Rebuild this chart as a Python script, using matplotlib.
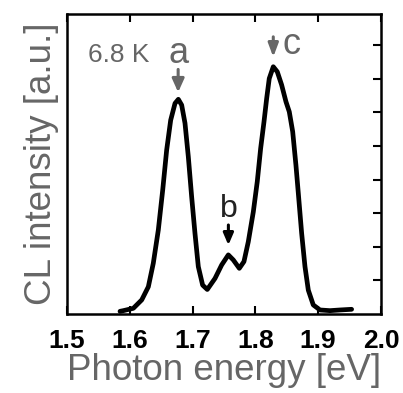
import matplotlib
matplotlib.use("Agg")
import matplotlib.pyplot as plt

plt.rcParams['font.family'] = ['Liberation Sans', 'DejaVu Sans']

energy = [1.5844, 1.5897, 1.6056, 1.619, 1.6295, 1.6374, 1.6454, 1.6524, 1.6587, 1.6651,
          1.672, 1.6773, 1.6826, 1.6879, 1.6932, 1.6985, 1.7038, 1.7091, 1.716, 1.7234,
          1.7357, 1.7463, 1.7569, 1.7648, 1.7744, 1.7818, 1.7887, 1.7967, 1.803, 1.8084,
          1.8137, 1.818, 1.8221, 1.8285, 1.8349, 1.8418, 1.8487, 1.854, 1.8594, 1.8646,
          1.8684, 1.8737, 1.879, 1.8843, 1.8922, 1.9029, 1.9188, 1.9347, 1.9533]
intensity = [0.08, 0.10, 0.17, 0.42, 0.81, 1.51, 2.5, 3.69, 4.88, 5.77,
             6.27, 6.39, 6.22, 5.68, 4.68, 3.49, 2.4, 1.41, 0.86, 0.73,
             1.06, 1.46, 1.76, 1.61, 1.36, 1.56, 2.15, 3.04, 3.94, 4.93,
             5.72, 6.42, 7.01, 7.36, 7.21, 6.82, 6.32, 6.02, 5.43, 4.43,
             3.59, 2.4, 1.41, 0.71, 0.27, 0.12, 0.10, 0.12, 0.14]

xticks = [1.5, 1.6, 1.7, 1.8, 1.9, 2.0]
xtick_labels = ["1.5", "1.6", "1.7", "1.8", "1.9", "2.0"]
yticks = [1, 2, 3, 4, 5, 6, 7, 8]

peak_labels = ["a", "b", "c"]
peak_energy = [1.677, 1.757, 1.8285]

gray = "#666666"

fig = plt.figure(figsize=(4.03, 3.93), dpi=100)
ax = fig.add_axes([0.1663, 0.201, 0.779, 0.7634])
ax.plot(energy, intensity, color="black", lw=3.4, solid_joinstyle="round", solid_capstyle="round")
ax.set_xlim(1.5, 2.0)
ax.set_ylim(0, 8.93)

ax.set_xticks(xticks)
ax.set_xticklabels(xtick_labels, fontweight="bold")
ax.set_yticks(yticks)
ax.tick_params(axis="x", which="both", direction="in", top=True, bottom=True,
               length=6, width=1.5, labelsize=19, pad=11, labelcolor="black")
ax.tick_params(axis="y", which="both", direction="in", left=False, right=True,
               length=6, width=1.5, labelleft=False, labelright=False)
for s in ax.spines.values():
    s.set_linewidth(1.8)

ax.set_xlabel("Photon energy [eV]", fontsize=26.5, color=gray, labelpad=0)
ax.set_ylabel("CL intensity [a.u.]", fontsize=26.5, color=gray, labelpad=6)

ax.text(1.5334, 7.7, "6.8 K", fontsize=19, color=gray, ha="left", va="center")

astyle = "-|>,head_length=0.8,head_width=0.36"
# a
ax.annotate("", xy=(peak_energy[0], 6.6), xytext=(peak_energy[0], 7.28),
            arrowprops=dict(arrowstyle=astyle, color=gray, lw=2.2, shrinkA=0, shrinkB=0))
ax.text(peak_energy[0], 7.75, peak_labels[0], fontsize=26, color=gray, ha="center", va="center")
# b
ax.annotate("", xy=(peak_energy[1], 2.05), xytext=(peak_energy[1], 2.65),
            arrowprops=dict(arrowstyle="-|>,head_length=0.7,head_width=0.3", color="black", lw=2.2,
                            shrinkA=0, shrinkB=0))
ax.text(peak_energy[1], 3.12, peak_labels[1], fontsize=23, color="#222222", ha="center", va="center")
# c
ax.annotate("", xy=(peak_energy[2], 7.65), xytext=(peak_energy[2], 8.25),
            arrowprops=dict(arrowstyle="-|>,head_length=0.8,head_width=0.3", color=gray, lw=2.2,
                            shrinkA=0, shrinkB=0))
ax.text(1.843, 8.02, peak_labels[2], fontsize=26, color=gray, ha="left", va="center")

fig.savefig("out.png", dpi=100)
